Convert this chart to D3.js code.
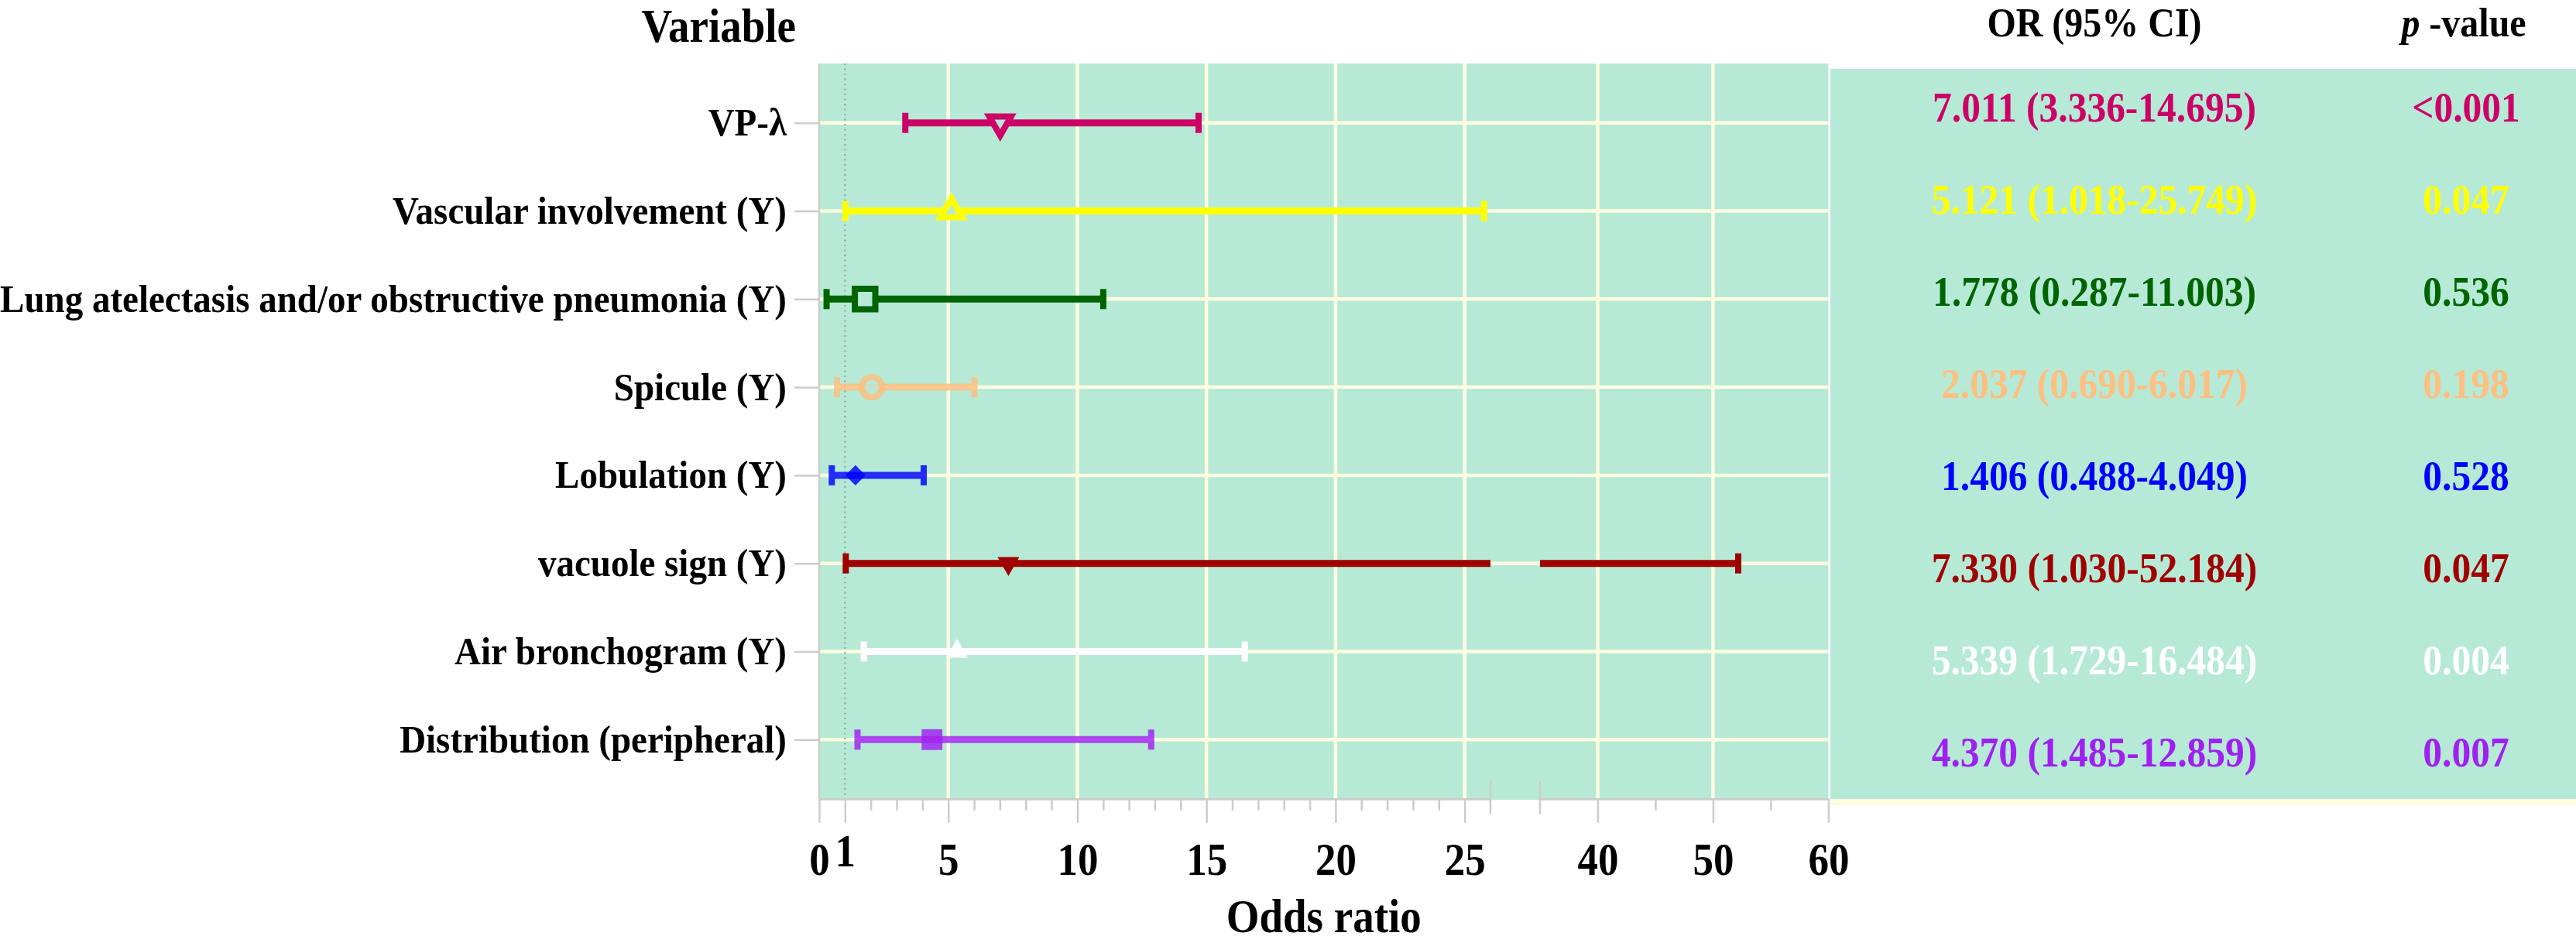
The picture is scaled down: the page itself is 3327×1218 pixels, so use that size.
<!DOCTYPE html>
<html>
<head>
<meta charset="utf-8">
<script src="https://cdn.jsdelivr.net/npm/d3@7"></script>
<style>
  html, body { margin: 0; padding: 0; background: #ffffff; }
  svg { display: block; }
  text { font-family: "Liberation Serif", "Times New Roman", serif; font-weight: bold; }
</style>
</head>
<body>
<svg id="chart" width="3327" height="1218"></svg>
<script>
// ---------------- DATA ----------------
const categories = [
  "VP-λ",
  "Vascular involvement (Y)",
  "Lung atelectasis and/or obstructive pneumonia (Y)",
  "Spicule (Y)",
  "Lobulation (Y)",
  "vacuole sign (Y)",
  "Air bronchogram (Y)",
  "Distribution (peripheral)"
];
const orValues = [7.011, 5.121, 1.778, 2.037, 1.406, 7.330, 5.339, 4.370];
const lowerCI  = [3.336, 1.018, 0.287, 0.690, 0.488, 1.030, 1.729, 1.485];
const upperCI  = [14.695, 25.749, 11.003, 6.017, 4.049, 52.184, 16.484, 12.859];
const pLabels  = ["<0.001", "0.047", "0.536", "0.198", "0.528", "0.047", "0.004", "0.007"];
const seriesColors = ["#CC0066", "#FFFF00", "#006400", "#FFBF80", "#0000FF", "#A00000", "#FFFFFF", "#A020F0"];
const markerShapes = ["triangle-down-open", "triangle-open", "square-open", "circle-open",
                      "diamond", "triangle-down", "triangle", "square"];
const ticksSeg1 = [0, 1, 5, 10, 15, 20, 25];
const ticksSeg2 = [40, 50, 60];
const axisBreak = [26, 35];
const xDomain = [0, 60];
const refLine = 1;

// ---------------- LAYOUT / STYLE ----------------
const W = 3327, H = 1218;
const panel = { left: 1058, right: 2361.4, top: 82, bottom: 1032 };
const gapPx = [1925, 1989];
const table = { left: 2364, right: 3327, top: 89, bottom: 1032 };
const bg = "#B6EAD7";
const gridCol = "#FFFDE0";
const axisCol = "#CCCCCC";
const faded = new Set([3, 4, 7]);
const textStretch = 1.1;

const svg = d3.select("#chart");

const rows = categories.map((c, i) => ({
  cat: c, or: orValues[i], lo: lowerCI[i], hi: upperCI[i],
  p: pLabels[i], color: seriesColors[i], shape: markerShapes[i], i
}));

// scales
const x1 = d3.scaleLinear().domain([xDomain[0], axisBreak[0]]).range([panel.left, gapPx[0]]);
const x2 = d3.scaleLinear().domain([axisBreak[1], xDomain[1]]).range([gapPx[1], panel.right]);
const segments = [x1, x2];
const xPos = v => v <= axisBreak[0] ? x1(v) : x2(v);

const y = d3.scalePoint().domain(categories).range([panel.top, panel.bottom]).padding(0.674);
const yT = d3.scalePoint().domain(categories).range([table.top, table.bottom]).padding(0.466);

// ---------------- PANELS ----------------
svg.append("rect").attr("x", panel.left).attr("y", panel.top)
  .attr("width", panel.right - panel.left).attr("height", panel.bottom - panel.top + 1)
  .attr("fill", bg);

svg.append("rect").attr("x", table.left).attr("y", table.top)
  .attr("width", table.right - table.left).attr("height", table.bottom - table.top)
  .attr("fill", bg);
svg.append("rect").attr("x", table.left).attr("y", table.bottom)
  .attr("width", table.right - table.left).attr("height", 8)
  .attr("fill", gridCol);

// grid
const grid = svg.append("g");
grid.selectAll("line.v1").data(ticksSeg1.filter(t => t >= 5)).join("line")
  .attr("x1", d => x1(d)).attr("x2", d => x1(d))
  .attr("y1", panel.top).attr("y2", panel.bottom)
  .attr("stroke", gridCol).attr("stroke-width", 4.5);
grid.selectAll("line.v2").data(ticksSeg2.filter(t => t < xDomain[1])).join("line")
  .attr("x1", d => x2(d)).attr("x2", d => x2(d))
  .attr("y1", panel.top).attr("y2", panel.bottom)
  .attr("stroke", gridCol).attr("stroke-width", 4.5);
grid.selectAll("line.h").data(categories).join("line")
  .attr("x1", panel.left).attr("x2", panel.right)
  .attr("y1", d => y(d)).attr("y2", d => y(d))
  .attr("stroke", gridCol).attr("stroke-width", 4.5);

// reference line at OR = 1
svg.append("line")
  .attr("x1", x1(refLine)).attr("x2", x1(refLine))
  .attr("y1", panel.top).attr("y2", panel.bottom)
  .attr("stroke", "#999999").attr("stroke-width", 2)
  .attr("stroke-dasharray", "2,4.5");

// ---------------- ERROR BARS ----------------
const bars = svg.append("g");
rows.forEach(r => {
  const op = faded.has(r.i) ? 0.82 : 1;
  const g = bars.append("g").attr("opacity", op);
  segments.forEach(sc => {
    const [d0, d1] = sc.domain();
    const a = Math.max(r.lo, d0), b = Math.min(r.hi, d1);
    if (a < b) {
      g.append("line")
        .attr("x1", sc(a)).attr("x2", sc(b))
        .attr("y1", y(r.cat)).attr("y2", y(r.cat))
        .attr("stroke", r.color).attr("stroke-width", 9);
    }
  });
  [r.lo, r.hi].forEach(v => {
    g.append("line")
      .attr("x1", xPos(v)).attr("x2", xPos(v))
      .attr("y1", y(r.cat) - 13).attr("y2", y(r.cat) + 13)
      .attr("stroke", r.color).attr("stroke-width", 8);
  });
});

// ---------------- MARKERS ----------------
const symInfo = {
  "triangle-down-open": { type: d3.symbolTriangle, size: 340, rot: 180, open: true },
  "triangle-open":      { type: d3.symbolTriangle, size: 340, rot: 0, open: true },
  "square-open":        { type: d3.symbolSquare, size: 700, rot: 0, open: true },
  "circle-open":        { type: d3.symbolCircle, size: 540, rot: 0, open: true },
  "diamond":            { type: d3.symbolSquare, size: 340, rot: 45, open: false },
  "triangle-down":      { type: d3.symbolTriangle, size: 340, rot: 180, open: false },
  "triangle":           { type: d3.symbolTriangle, size: 340, rot: 0, open: false },
  "square":             { type: d3.symbolSquare, size: 720, rot: 0, open: false }
};
const marks = svg.append("g");
rows.forEach(r => {
  const s = symInfo[r.shape];
  const p = marks.append("path")
    .attr("d", d3.symbol().type(s.type).size(s.size)())
    .attr("transform", `translate(${xPos(r.or)},${y(r.cat)}) rotate(${s.rot})`)
    .attr("opacity", faded.has(r.i) ? 0.82 : 1);
  if (s.open) {
    p.attr("fill", bg).attr("stroke", r.color).attr("stroke-width", 8)
     .attr("stroke-linejoin", "miter");
  } else {
    p.attr("fill", r.color).attr("stroke", "none");
  }
});

// ---------------- AXES ----------------
svg.append("line").attr("x1", panel.left).attr("x2", panel.left)
  .attr("y1", panel.top).attr("y2", panel.bottom)
  .attr("stroke", axisCol).attr("stroke-width", 2.5);
const yAxis = svg.append("g").attr("transform", `translate(${panel.left},0)`)
  .call(d3.axisLeft(y).tickSize(32).tickSizeOuter(0).tickPadding(10));
yAxis.select(".domain").remove();
yAxis.selectAll(".tick line").attr("stroke", axisCol).attr("stroke-width", 2.5);
yAxis.selectAll(".tick text")
  .attr("fill", "#000").attr("font-size", 47).attr("dy", "0.31em")
  .attr("font-family", '"Liberation Serif", serif').attr("font-weight", "bold");

const axisY = 1031.7;
function styleAxis(g) {
  g.select(".domain").attr("stroke", axisCol).attr("stroke-width", 2.5);
  g.selectAll(".tick line").attr("stroke", axisCol).attr("stroke-width", 2.5);
}
const minor1 = d3.range(xDomain[0], axisBreak[0]).filter(v => !ticksSeg1.includes(v));
const minor2 = d3.range(axisBreak[1] + 5, xDomain[1], 5).filter(v => !ticksSeg2.includes(v));
[[x1, minor1], [x2, minor2]].forEach(([sc, vals]) => {
  const g = svg.append("g").attr("transform", `translate(0,${axisY})`)
    .call(d3.axisBottom(sc).tickValues(vals).tickSize(15).tickSizeOuter(0).tickFormat(""));
  styleAxis(g);
});
[[x1, ticksSeg1], [x2, ticksSeg2]].forEach(([sc, vals]) => {
  const g = svg.append("g").attr("transform", `translate(0,${axisY})`)
    .call(d3.axisBottom(sc).tickValues(vals).tickSize(31).tickSizeOuter(0).tickFormat(d3.format("d")));
  styleAxis(g);
  g.selectAll(".tick text")
    .attr("fill", "#000").attr("font-size", 53)
    .attr("font-family", '"Liberation Serif", serif').attr("font-weight", "bold")
    .attr("dy", null)
    .attr("y", d => d === refLine ? 87 : 98.3);
});
svg.selectAll("line.brk").data([x1(axisBreak[0]), x2(axisBreak[1])]).join("line")
  .attr("x1", d => d).attr("x2", d => d)
  .attr("y1", axisY - 23).attr("y2", axisY + 20)
  .attr("stroke", axisCol).attr("stroke-width", 2.5);

svg.append("text").attr("x", (panel.left + panel.right) / 2).attr("y", 1204)
  .attr("text-anchor", "middle").attr("font-size", 55).text("Odds ratio");

// ---------------- HEADERS ----------------
svg.append("text").attr("x", 1028).attr("y", 54).attr("text-anchor", "end")
  .attr("font-size", 55).text("Variable");
svg.append("text").attr("x", 2705).attr("y", 47).attr("text-anchor", "middle")
  .attr("font-size", 48).text("OR (95% CI)");
const ph = svg.append("text").attr("x", 3182).attr("y", 47).attr("text-anchor", "middle")
  .attr("font-size", 48);
ph.append("tspan").attr("font-style", "italic").text("p");
ph.append("tspan").text(" -value");

// ---------------- TABLE TEXT ----------------
const fmt = d3.format(".3f");
const tbl = svg.append("g");
tbl.selectAll("text.or").data(rows).join("text")
  .attr("x", 2705).attr("y", d => yT(d.cat) + 13)
  .attr("text-anchor", "middle").attr("font-size", 49.5)
  .attr("fill", d => d.color)
  .text(d => `${fmt(d.or)} (${fmt(d.lo)}-${fmt(d.hi)})`);
tbl.selectAll("text.p").data(rows).join("text")
  .attr("x", 3185).attr("y", d => yT(d.cat) + 13)
  .attr("text-anchor", "middle").attr("font-size", 49.5)
  .attr("fill", d => d.color)
  .text(d => d.p);

// slight vertical stretch of all text, as in the reference rendering
svg.selectAll("text").each(function () {
  const t = d3.select(this);
  const tx = +t.attr("x") || 0, ty = +t.attr("y") || 0;
  t.attr("x", 0).attr("y", 0)
   .attr("transform", `translate(${tx},${ty}) scale(1,${textStretch})`);
});
</script>
</body>
</html>
